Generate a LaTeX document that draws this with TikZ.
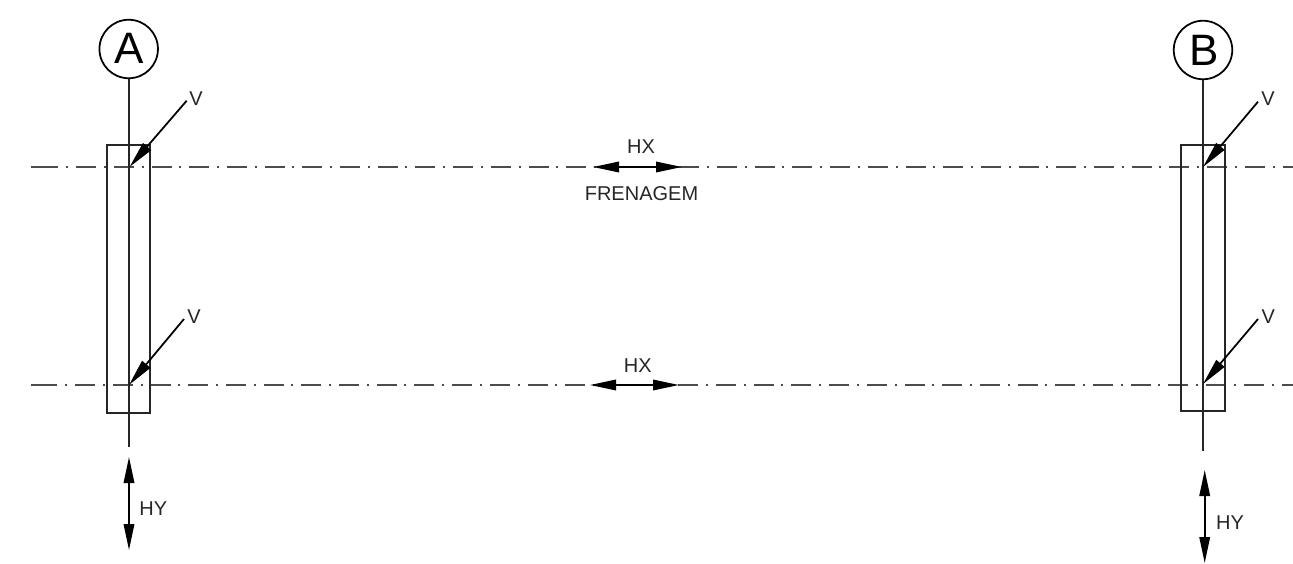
\documentclass[tikz,border=0pt]{standalone}
\usepackage{fontspec}
\setmainfont{Liberation Sans}
\usetikzlibrary{arrows.meta}
\tikzset{
  x=1pt,y=-1pt,
  ln/.style={line width=1.75pt,draw=black!85},
  axisline/.style={line width=1.75pt,draw=black!70,dash pattern=on 20pt off 7.7pt on 2pt off 8pt},
  axisstub/.style={line width=1.75pt,draw=black!70},
  force/.style={line width=1.75pt,draw=black,{Triangle[length=26pt,width=10.5pt]}-{Triangle[length=26pt,width=10.5pt]}},
  lead/.style={line width=1.75pt,draw=black,-{Triangle[length=27pt,width=10.5pt]}},
  lbl/.style={font=\fontsize{20}{20}\selectfont,text=black!85,inner sep=0pt},
  bubble/.style={circle,draw=black,line width=1.75pt,minimum size=58.5pt,inner sep=0pt,font=\fontsize{44}{44}\selectfont}
}
\begin{document}
\begin{tikzpicture}
\useasboundingbox (0,0) rectangle (1293,564);
% centre lines
\coordinate (t1) at (38.4,167); \coordinate (t2) at (1293,167);
\coordinate (b1) at (37.4,385); \coordinate (b2) at (1293,385);
\coordinate (t0) at (31,167); \coordinate (b0) at (31,385);
\draw[axisline] (t1) -- (t2);
\draw[axisline] (b1) -- (b2);
\draw[axisstub] (t0) -- (t1);
\draw[axisstub] (b0) -- (b1);
% bubbles
\node[bubble] (A) at (128.7,49) {\raisebox{1.5pt}{A}};
\node[bubble] (B) at (1203,50) {\hspace{3pt}\raisebox{-2pt}{B}};
% columns
\coordinate (Aend) at (128.7,447); \coordinate (Bend) at (1203,451);
\draw[ln] (A) -- (Aend);
\draw[ln] (B) -- (Bend);
\coordinate (A1) at (106.7,145.3); \coordinate (A2) at (150.3,413.3);
\coordinate (B1) at (1181,145.3); \coordinate (B2) at (1225,411);
\draw[ln] (A1) rectangle (A2);
\draw[ln] (B1) rectangle (B2);
% V loads
\coordinate (vat) at (186.7,100.7); \coordinate (vah) at (129.5,167);
\coordinate (vab) at (184,319); \coordinate (vai) at (129,385);
\coordinate (vbt) at (1258,101.7); \coordinate (vbh) at (1203,167);
\coordinate (vbb) at (1258,319); \coordinate (vbi) at (1203,384);
\draw[lead] (vat) -- (vah);
\draw[lead] (vab) -- (vai);
\draw[lead] (vbt) -- (vbh);
\draw[lead] (vbb) -- (vbi);
\node[lbl] (v1) at (196,99) {V};
\node[lbl] (v2) at (194,317) {V};
\node[lbl] (v3) at (1268,99) {V};
\node[lbl] (v4) at (1268.3,317) {V};
% HX
\coordinate (hx1a) at (593,167); \coordinate (hx1b) at (682,167);
\coordinate (hx2a) at (590,385); \coordinate (hx2b) at (679,385);
\draw[force] (hx1a) -- (hx1b);
\draw[force] (hx2a) -- (hx2b);
\node[lbl] (hx1) at (641,146.7) {HX};
\node[lbl] (fr) at (641.5,193.5) {FRENAGEM};
\node[lbl] (hx2) at (637.7,366) {HX};
% HY
\coordinate (hya) at (129,457); \coordinate (hyb) at (129,550);
\coordinate (hyc) at (1204.7,470); \coordinate (hyd) at (1204.7,563);
\draw[force] (hya) -- (hyb);
\draw[force] (hyc) -- (hyd);
\node[lbl] (hy1) at (153.3,509) {HY};
\node[lbl] (hy2) at (1230,522.7) {HY};
\end{tikzpicture}
\end{document}
